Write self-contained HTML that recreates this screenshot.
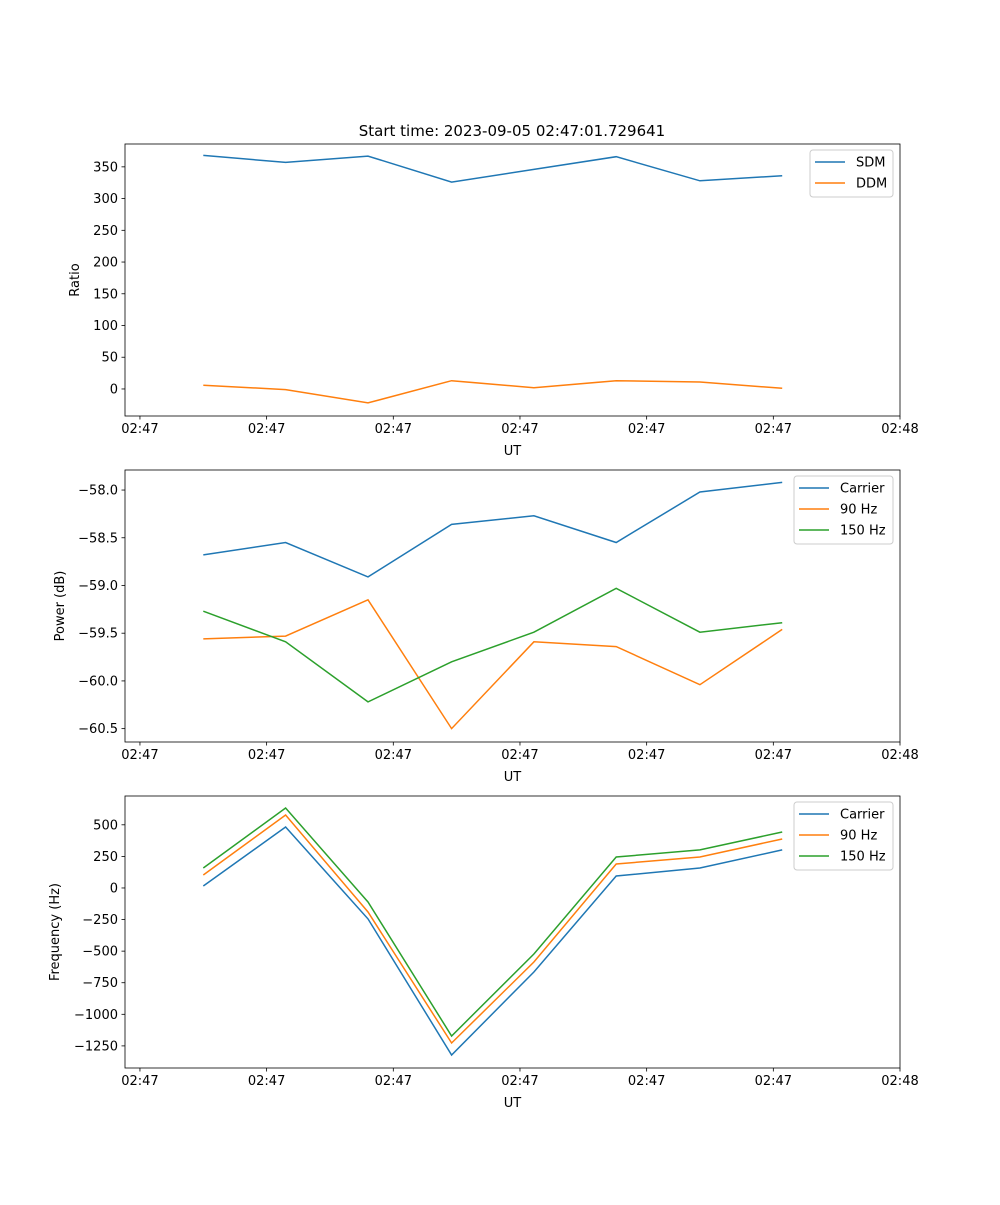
<!DOCTYPE html>
<html><head><meta charset="utf-8"><style>
body{margin:0;background:#fff;}
svg text{font-family:"DejaVu Sans","Liberation Sans",sans-serif;font-size:13px;fill:#000;}
</style></head><body>
<svg id="fig" width="1000" height="1200" xmlns="http://www.w3.org/2000/svg"></svg>
<script>
const times = [5.0, 11.5, 18.0, 24.6, 31.1, 37.6, 44.2, 50.7];
const xTickValues = [0, 10, 20, 30, 40, 50, 60];
const xTickLabels = ["02:47","02:47","02:47","02:47","02:47","02:47","02:48"];
const sdm = [368, 357, 367, 326, 346, 366, 328, 336];
const ddm = [6, -1, -22, 13, 2, 13, 11, 1];
const ratioTicks = [0, 50, 100, 150, 200, 250, 300, 350];
const powCarrier = [-58.68, -58.55, -58.91, -58.36, -58.27, -58.55, -58.02, -57.92];
const pow90 = [-59.56, -59.53, -59.15, -60.50, -59.59, -59.64, -60.04, -59.46];
const pow150 = [-59.27, -59.59, -60.22, -59.80, -59.49, -59.03, -59.49, -59.39];
const powTicks = [-58.0, -58.5, -59.0, -59.5, -60.0, -60.5];
const freqCarrier = [16, 483, -245, -1322, -665, 95, 158, 301];
const freq90 = [103, 578, -190, -1227, -586, 190, 245, 388];
const freq150 = [158, 633, -111, -1172, -523, 245, 301, 443];
const freqTicks = [500, 250, 0, -250, -500, -750, -1000, -1250];

const NS="http://www.w3.org/2000/svg";
const svg=document.getElementById('fig');
function mk(tag,attrs,parent){const e=document.createElementNS(NS,tag);for(const k in attrs)e.setAttribute(k,attrs[k]);(parent||svg).appendChild(e);return e;}
const L=125,R=900,X0=-1.18,X1=60;
const xs=v=>L+(v-X0)/(X1-X0)*(R-L);
const C=['#1f77b4','#ff7f0e','#2ca02c'];

function panel(name,top,bot,y0,y1,ticks,fmt,series,labels,ylabel,ylabX,legend){
  const g=mk('g',{});
  
  
  const ys=v=>bot-(v-y0)/(y1-y0)*(bot-top);
  series.forEach((s,i)=>{
    const p=mk('polyline',{points:s.map((v,j)=>xs(times[j]).toFixed(1)+','+ys(v).toFixed(1)).join(' '),fill:'none',stroke:C[i],'stroke-width':1.5},g);
    
    
  });
  const fr=mk('rect',{x:L,y:top,width:R-L,height:bot-top,fill:'none',stroke:'#000','stroke-width':0.8},g);
  
  
  xTickValues.forEach((v,i)=>{
    const x=xs(v);
    mk('line',{x1:x,x2:x,y1:bot,y2:bot+3.5,stroke:'#000','stroke-width':0.8},g);
    const t=mk('text',{x:x,y:bot+17,'text-anchor':'middle'},g);t.textContent=xTickLabels[i];
    
    
  });
  ticks.forEach(v=>{
    const y=ys(v);
    mk('line',{x1:L-3.5,x2:L,y1:y,y2:y,stroke:'#000','stroke-width':0.8},g);
    const t=mk('text',{x:L-7,y:y+4.5,'text-anchor':'end'},g);t.textContent=fmt(v);
    
    
  });
  const xl=mk('text',{x:(L+R)/2,y:bot+39,'text-anchor':'middle'},g);xl.textContent='UT';
  
  
  const yc=(top+bot)/2;
  const yl=mk('text',{x:ylabX,y:yc,'text-anchor':'middle',transform:`rotate(-90 ${ylabX} ${yc})`},g);yl.textContent=ylabel;
  
  
  const lg=mk('g',{},g);
  
  
  mk('rect',{x:legend.x,y:top+6,width:legend.w,height:labels.length*21+5,rx:3,fill:'#fff','fill-opacity':0.8,stroke:'#ccc'},lg);
  labels.forEach((lab,i)=>{
    const y=top+18+i*21;
    mk('line',{x1:legend.x+5,x2:legend.x+35,y1:y,y2:y,stroke:C[i],'stroke-width':1.5},lg);
    const t=mk('text',{x:legend.x+46,y:y+4.5},lg);t.textContent=lab;
    
    
  });
}
panel('ratio-panel',144,416,-42.6,386,ratioTicks,v=>String(v),[sdm,ddm],['SDM','DDM'],'Ratio',79,{x:810,w:83});
panel('power-panel',470,742,-60.64,-57.79,powTicks,v=>'\u2212'+Math.abs(v).toFixed(1),[powCarrier,pow90,pow150],['Carrier','90 Hz','150 Hz'],'Power (dB)',64,{x:794,w:99});
panel('frequency-panel',796,1068,-1425,728,freqTicks,v=>(v<0?'\u2212':'')+Math.abs(v),[freqCarrier,freq90,freq150],['Carrier','90 Hz','150 Hz'],'Frequency (Hz)',59,{x:794,w:99});
const tt=mk('text',{x:512,y:136,'text-anchor':'middle','font-size':'15px',style:'font-size:15px'});
tt.textContent='Start time: 2023-09-05 02:47:01.729641';


</script>
</body></html>
